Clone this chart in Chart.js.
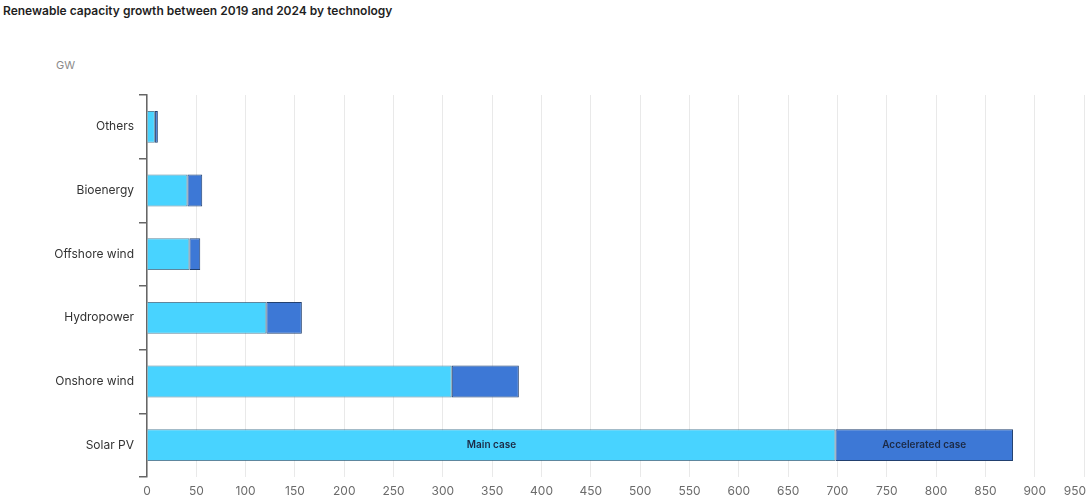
<!DOCTYPE html>
<html>
<head>
<meta charset="utf-8">
<script src="https://cdn.jsdelivr.net/npm/chart.js@4/dist/chart.umd.min.js"></script>
<style>
  html, body { margin: 0; padding: 0; background: #fff; }
  body { width: 1088px; height: 499px; position: relative; overflow: hidden; font-family: Inter, "Noto Sans", sans-serif; }
  #title { position: absolute; left: 3px; top: 3px; font-size: 12px; font-weight: 600; color: #1f1f1f; }
  #unit { position: absolute; left: 56px; top: 58px; font-size: 11px; color: #8a8a8a; }
  #wrap { position: absolute; left: 0; top: 0; width: 1088px; height: 499px; }
</style>
</head>
<body>
<div id="title">Renewable capacity growth between 2019 and 2024 by technology</div>
<div id="unit">GW</div>
<div id="wrap"><canvas id="chart"></canvas></div>
<script>
// technologies, top to bottom
const categories = ['Others', 'Bioenergy', 'Offshore wind', 'Hydropower', 'Onshore wind', 'Solar PV'];
// GW added in the main case
const mainCase = [8, 41, 43, 121, 309, 698];
// extra GW on top of the main case in the accelerated case
const acceleratedCase = [3, 15, 11, 36, 68, 180];
const seriesNames = ['Main case', 'Accelerated case'];
const xMax = 950;

// writes the series name inside the Solar PV segments
const segmentLabels = {
    id: 'segmentLabels',
    afterDatasetsDraw(chart) {
        const ctx = chart.ctx;
        const last = categories.length - 1;
        ctx.save();
        ctx.font = '600 10px Inter, "Noto Sans", sans-serif';
        ctx.fillStyle = '#1c2a45';
        ctx.textAlign = 'center';
        ctx.textBaseline = 'middle';
        chart.data.datasets.forEach((ds, i) => {
            const bar = chart.getDatasetMeta(i).data[last];
            ctx.fillText(ds.label, (bar.x + bar.base) / 2, bar.y);
        });
        ctx.restore();
    }
};

const ctx = document.getElementById('chart').getContext('2d');
new Chart(ctx, {
    type: 'bar',
    data: {
        labels: categories,
        datasets: [
            {
                label: seriesNames[0],
                data: mainCase,
                backgroundColor: '#48d3ff',
                borderColor: 'rgba(40, 95, 125, 0.75)',
                borderWidth: 1,
                borderSkipped: 'start',
                barPercentage: 0.5,
                categoryPercentage: 1
            },
            {
                label: seriesNames[1],
                data: acceleratedCase,
                backgroundColor: '#3d78d6',
                borderColor: '#22406f',
                borderWidth: 1,
                borderSkipped: false,
                barPercentage: 0.5,
                categoryPercentage: 1
            }
        ]
    },
    options: {
        indexAxis: 'y',
        responsive: true,
        maintainAspectRatio: false,
        animation: false,
        layout: { padding: { top: 95, right: 4, left: 0, bottom: 0 } },
        plugins: {
            legend: { display: false },
            tooltip: { enabled: false }
        },
        scales: {
            x: {
                stacked: true,
                min: 0,
                max: xMax,
                ticks: {
                    stepSize: 50,
                    color: '#6b6b6b',
                    padding: 7,
                    font: { family: 'Inter, "Noto Sans", sans-serif', size: 12 },
                    // keep the last label inside the canvas
                    callback: v => v === xMax ? v + '\u2002\u2002\u2002' : v
                },
                grid: { color: '#e9e9e9', drawTicks: false },
                border: { display: false },
                afterFit: s => { s.height = 22; s.paddingLeft = 0; s.paddingRight = 0; }
            },
            y: {
                stacked: true,
                ticks: {
                    color: '#333',
                    padding: 5,
                    font: { family: 'Inter, "Noto Sans", sans-serif', size: 12 }
                },
                grid: {
                    drawOnChartArea: false,
                    drawTicks: true,
                    tickLength: 8,
                    color: '#666',
                    lineWidth: 1.5
                },
                border: { display: true, color: '#666', width: 1.5 },
                afterFit: s => { s.width = 147; }
            }
        }
    },
    plugins: [segmentLabels]
});
</script>
</body>
</html>
